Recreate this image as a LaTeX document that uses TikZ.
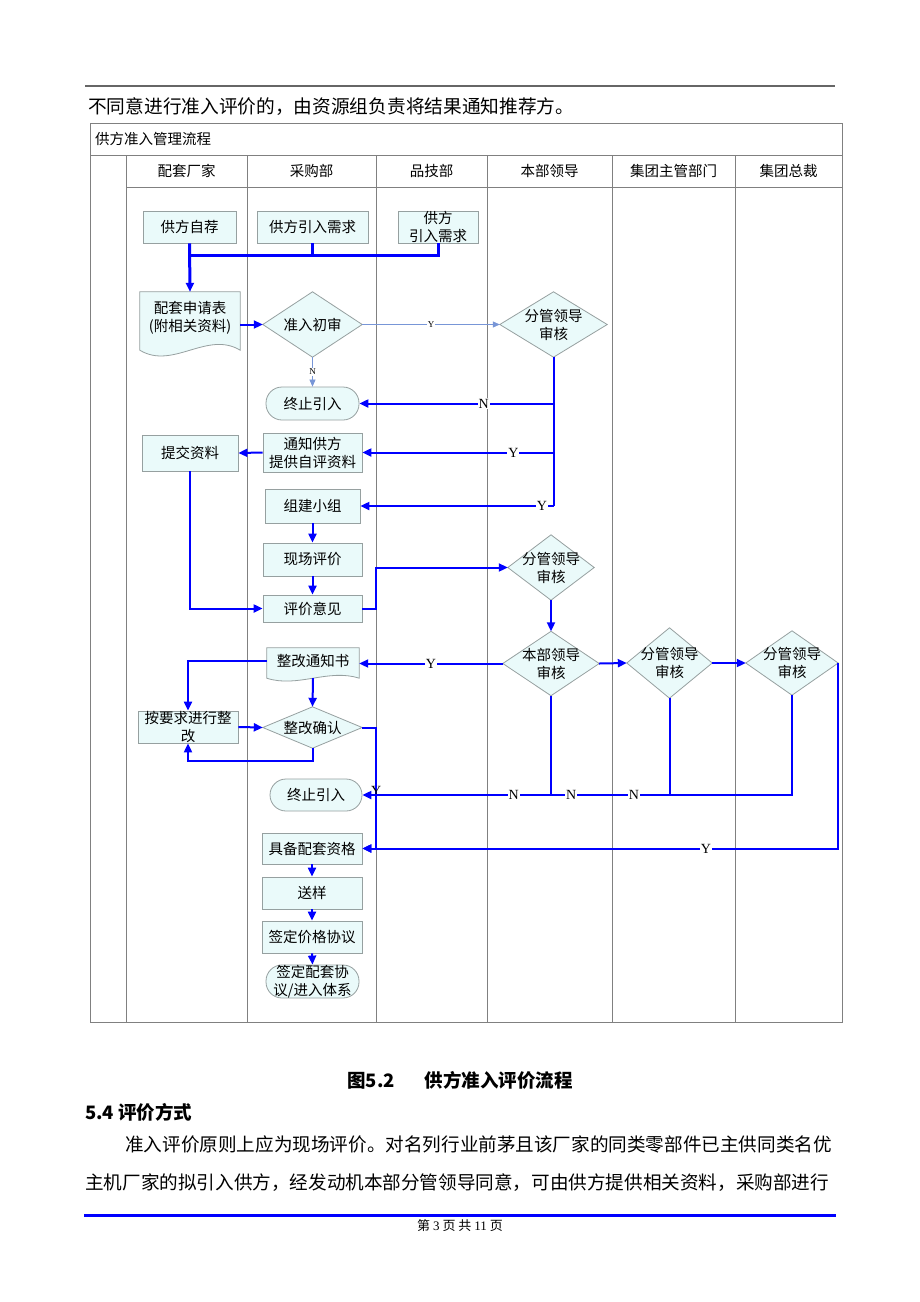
\documentclass[tikz,border=0pt]{standalone}
\usepackage{fontspec}
\setmainfont{Noto Sans CJK SC}
\newfontfamily\lat{Liberation Serif}
\usetikzlibrary{arrows.meta,calc,backgrounds}
\definecolor{boxfill}{RGB}{234,250,250}
\definecolor{boxline}{RGB}{150,160,160}
\definecolor{flowblue}{RGB}{0,0,255}
\definecolor{thinblue}{RGB}{120,150,215}
\definecolor{gridgray}{RGB}{128,128,128}
\tikzset{
 nf/.style={font=\fontsize{14.5}{18}\selectfont},
 box/.style={rectangle, draw=boxline, fill=boxfill, line width=0.8pt, inner sep=0pt, align=center, nf},
 stad/.style={box, rounded corners=16pt},
 bare/.style={rectangle, inner sep=0pt, align=center, nf},
 shapeln/.style={draw=boxline, fill=boxfill, line width=0.8pt},
 bflow/.style={draw=flowblue, line width=2pt, -{Triangle[length=9pt,width=8pt]}},
 bflowline/.style={draw=flowblue, line width=2pt},
 tflow/.style={draw=thinblue, line width=0.7pt, -{Triangle[length=7pt,width=6pt]}},
 yn/.style={font=\lat\fontsize{14}{14}\selectfont, fill=white, inner sep=1pt},
 ynsmall/.style={font=\lat\fontsize{9}{9}\selectfont, fill=white, inner sep=1pt},
 tabline/.style={draw=gridgray, line width=0.9pt},
 hdr/.style={font=\fontsize{14.5}{14.5}\selectfont, inner sep=0pt},
}
\begin{document}
\begin{tikzpicture}[x=1pt,y=-1pt]
\useasboundingbox (0,0) rectangle (920,1302);

% ---- text above and below ----
\node[anchor=west, font=\fontsize{18.7}{18.7}\selectfont, inner sep=0pt] (intro) at (88,107) {不同意进行准入评价的，由资源组负责将结果通知推荐方。};
\node[anchor=west, hdr] (title) at (95,139) {供方准入管理流程};
\node[hdr] (h1) at (186.5,171) {配套厂家};
\node[hdr] (h2) at (311.5,171) {采购部};
\node[hdr] (h3) at (431.5,171) {品技部};
\node[hdr] (h4) at (549.5,171) {本部领导};
\node[hdr] (h5) at (673.5,171) {集团主管部门};
\node[hdr] (h6) at (788.5,171) {集团总裁};

\node[font=\bfseries\fontsize{18.5}{18.5}\selectfont, inner sep=0pt] (cap) at (460,1080) {图5.2\hspace{30pt}供方准入评价流程};
\node[anchor=west, font=\bfseries\fontsize{18.5}{18.5}\selectfont, inner sep=0pt] (sec) at (85,1112) {5.4 评价方式};
\node[anchor=west, font=\fontsize{18.6}{18.6}\selectfont, inner sep=0pt] (p1) at (125,1144) {准入评价原则上应为现场评价。对名列行业前茅且该厂家的同类零部件已主供同类名优};
\node[anchor=west, font=\fontsize{18.6}{18.6}\selectfont, inner sep=0pt] (p2) at (85,1183) {主机厂家的拟引入供方，经发动机本部分管领导同意，可由供方提供相关资料，采购部进行};
\node[font=\fontsize{13}{13}\selectfont, inner sep=0pt] (ft) at (460,1226) {第 {\lat 3} 页 共 {\lat 11} 页};

% ---- flow nodes ----
\node[box, minimum width=93pt, minimum height=32pt] (s1) at (189.5,227) {供方自荐};
\node[box, minimum width=111pt, minimum height=32pt] (s2) at (312.5,227) {供方引入需求};
\node[box, minimum width=80pt, minimum height=32pt] (s3) at (438,227) {供方\\引入需求};
\node[bare, minimum width=100pt, minimum height=52pt] (app) at (190,318) {配套申请表\\(附相关资料)};
\node[bare, minimum width=99pt, minimum height=65pt] (zc) at (312.5,324.5) {准入初审};
\node[bare, minimum width=107pt, minimum height=65pt] (d1) at (553.5,324.5) {分管领导\\审核};
\node[stad, minimum width=93pt, minimum height=33pt] (tz1) at (312.5,403.5) {终止引入};
\node[box, minimum width=99pt, minimum height=39pt] (tz) at (312.5,452.5) {通知供方\\提供自评资料};
\node[box, minimum width=96pt, minimum height=36pt] (tj) at (190,453) {提交资料};
\node[box, minimum width=95pt, minimum height=34pt] (zj) at (312.5,506) {组建小组};
\node[box, minimum width=99pt, minimum height=33pt] (xc) at (312.5,559.5) {现场评价};
\node[box, minimum width=99pt, minimum height=27pt] (pj) at (312.5,608.5) {评价意见};
\node[bare, minimum width=86pt, minimum height=65pt] (d2) at (551,567.5) {分管领导\\审核};
\node[bare, minimum width=96pt, minimum height=64pt] (d5) at (551,663.5) {本部领导\\审核};
\node[bare, minimum width=85pt, minimum height=70pt] (d6) at (669.5,663) {分管领导\\审核};
\node[bare, minimum width=92pt, minimum height=64pt] (d7) at (792,663) {分管领导\\审核};
\node[bare, minimum width=92pt, minimum height=26pt] (zg) at (313,661) {整改通知书};
\node[box, minimum width=100pt, minimum height=32pt] (ay) at (188,727) {按要求进行整\\改};
\node[bare, minimum width=99pt, minimum height=41pt] (zq) at (312.5,727.5) {整改确认};
\node[stad, minimum width=92pt, minimum height=32pt] (tz2) at (316,795) {终止引入};
\node[box, minimum width=100pt, minimum height=31pt] (jb) at (312,848.5) {具备配套资格};
\node[box, minimum width=100pt, minimum height=32pt] (sy) at (312,893) {送样};
\node[box, minimum width=100pt, minimum height=32pt] (qd) at (312,937) {签定价格协议};
\node[stad, minimum width=93pt, minimum height=33pt] (qp) at (312.5,981.5) {签定配套协\\议/进入体系};

% ---- background: page, table, shapes ----
\begin{scope}[on background layer]
\fill[white] (0,0) rectangle (920,1302);
\draw[draw=gridgray!80!black, line width=1.8pt] (85,86) -- (835,86);
\draw[flowblue, line width=3pt] (84,1215) -- (836,1215);
\draw[tabline] (90,123) rectangle (842,1022);
\draw[tabline] (90,155) -- (842,155);
\draw[tabline] (126,187) -- (842,187);
\foreach \x in {126,247,376,487,612,735} \draw[tabline] (\x,155) -- (\x,1022);
\foreach \n in {zc,d1,d2,d5,d6,d7,zq}
  \filldraw[shapeln] (\n.north) -- (\n.east) -- (\n.south) -- (\n.west) -- cycle;
\filldraw[shapeln] (app.north west) -- (app.north east) -- ($(app.south east)+(0,6)$)
  .. controls ($(app.south east)+(-33,-14)$) and ($(app.south west)+(33,26)$) .. ($(app.south west)+(0,6)$) -- cycle;
\filldraw[shapeln] (zg.north west) -- (zg.north east) -- ($(zg.south east)+(0,4)$)
  .. controls ($(zg.south east)+(-31,-6)$) and ($(zg.south west)+(31,14)$) .. ($(zg.south west)+(0,4)$) -- cycle;
\end{scope}

% ---- connectors ----
\coordinate (m) at (189.5,255);
\draw[bflowline, line width=3pt] (s3.south) |- (m);
\draw[bflowline, line width=3pt] (s2.south) -- (s2.south |- m);
\draw[bflow, line width=3pt] (s1.south) -- (app.north);
\draw[bflow] (app.east |- zc.west) -- (zc.west);
\draw[tflow] (zc.east) -- (d1.west) node[ynsmall, pos=0.5] {Y};
\draw[tflow] (zc.south) -- (tz1.north) node[ynsmall, pos=0.5] {N};
\draw[bflowline] (d1.south) -- (d1.south |- zj.east);
\draw[bflow] (d1.south |- tz1.east) -- (tz1.east) node[yn, pos=0.36] {N};
\draw[bflow] (d1.south |- tz.east) -- (tz.east) node[yn, pos=0.21] {Y};
\draw[bflow] (d1.south |- zj.east) -- (zj.east) node[yn, pos=0.06] {Y};
\draw[bflow] (tz.west) -- (tj.east);
\draw[bflow] (zj.south) -- (xc.north);
\draw[bflow] (xc.south) -- (pj.north);
\draw[bflow] (tj.south) |- (pj.west);
\draw[bflow] (pj.east) -- ++(14,0) |- (d2.west);
\draw[bflow] (d2.south) -- (d5.north);
\draw[bflow] (d5.east) -- (d6.west);
\draw[bflow] (d6.east) -- (d7.west);
\draw[bflow] (d5.west) -- (zg.east |- d5.west) node[yn, pos=0.5] {Y};
\draw[bflow] (zg.west) -| (ay.north);
\draw[bflow] ([yshift=-4pt]zg.south) -- (zq.north);
\draw[bflow] (ay.east) -- (zq.west);
\draw[bflow] (zq.south) -- ++(0,13) -| (ay.south);
\draw[bflow] (zq.east) -- ++(14,0) |- (jb.east) node[yn, fill=none, pos=0.26] {Y};
\draw[bflow] (d7.east) |- (jb.east) node[yn, pos=0.639] {Y};
\draw[bflowline] (d5.south) -- (d5.south |- tz2.east);
\draw[bflowline] (d6.south) -- (d6.south |- tz2.east);
\draw[bflow] (d7.south) |- (tz2.east)
  node[yn, pos=0.684] {N} node[yn, pos=0.757] {N} node[yn, pos=0.824] {N};
\draw[bflow] (jb.south) -- (sy.north);
\draw[bflow] (sy.south) -- (qd.north);
\draw[bflow] (qd.south) -- (qp.north);
\end{tikzpicture}
\end{document}
